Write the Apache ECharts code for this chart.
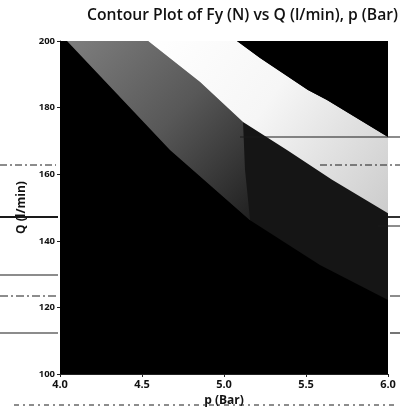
<!DOCTYPE html>
<html>
<head>
<meta charset="utf-8">
<script src="https://cdn.jsdelivr.net/npm/echarts@6/dist/echarts.min.js"></script>
<style>
  html, body { margin: 0; padding: 0; background: #fff; }
  #chart { width: 400px; height: 416px; }
</style>
</head>
<body>
<div id="chart"></div>
<script>
// Axis ranges and ticks
const pTicks = [4.0, 4.5, 5.0, 5.5, 6.0];
const qTicks = [100, 120, 140, 160, 180, 200];

// Fy contour bands, each an outline of [p (Bar), Q (l/min)] vertices
const bandLowest = [[4, 100], [6, 100], [6, 200], [4, 200]];
const bandLow = [[4.043, 200], [4.671, 167.3], [5.159, 146.2], [5.585, 132.7], [6, 122.2], [6, 200]];
const bandMid = [[4.043, 200], [4.671, 167.3], [5.159, 146.2], [5.128, 161.3], [5.116, 175.7], [4.854, 187.7], [4.537, 200]];
const bandHigh = [[4.537, 200], [4.854, 187.7], [5.116, 175.7], [5.384, 167.3], [5.659, 158.3], [6, 148.3],
                  [6, 171.2], [5.628, 182.3], [5.512, 185.3], [5.220, 194.9], [5.079, 200]];
const bandTop = [[5.079, 200], [5.220, 194.9], [5.512, 185.3], [5.628, 182.3], [6, 171.2], [6, 200]];

const bands = [bandLowest, bandLow, bandMid, bandHigh, bandTop];

const G = echarts.graphic;
const bandFills = [
  '#000000',
  '#151515',
  new G.LinearGradient(0, 0, 1, 1, [
    { offset: 0, color: '#7e7e7e' },
    { offset: 0.5, color: '#585858' },
    { offset: 1, color: '#202020' }
  ]),
  new G.LinearGradient(0, 0, 1, 1, [
    { offset: 0, color: '#ffffff' },
    { offset: 0.45, color: '#f6f6f6' },
    { offset: 1, color: '#cccccc' }
  ]),
  '#000000'
];

// faint ruled lines running across the printed page: [y, x1, x2, width, dash]
const ruleLines = [
  [137, 240, 400, 1.2, null],
  [165, 0, 56, 1, [7, 3, 2, 3]],
  [165, 320, 400, 1, [7, 3, 2, 3]],
  [217, 0, 58, 1.8, null],
  [217, 388, 400, 1.8, null],
  [226, 378, 400, 1, null],
  [275, 0, 58, 1.2, null],
  [296, 0, 56, 1, [8, 3, 2, 3]],
  [296, 390, 400, 1, null],
  [333, 0, 58, 1.2, null],
  [333, 390, 400, 1.2, null],
  [405, 14, 396, 1, [5, 4, 2, 4]]
];

const chart = echarts.init(document.getElementById('chart'), null, { renderer: 'canvas' });

const FONT = '"Open Sans", "DejaVu Sans", sans-serif';

chart.setOption({
  animation: false,
  backgroundColor: '#ffffff',
  title: {
    text: 'Contour Plot of Fy (N) vs Q (l/min), p (Bar)',
    right: 2,
    top: 8,
    padding: 0,
    textStyle: { fontFamily: FONT, fontSize: 15.7, fontWeight: 600, color: '#111' }
  },
  grid: { left: 60, right: 12, top: 41, bottom: 42 },
  xAxis: {
    type: 'value',
    min: pTicks[0],
    max: pTicks[pTicks.length - 1],
    interval: 0.5,
    name: 'p (Bar)',
    nameLocation: 'middle',
    nameGap: 21,
    nameTextStyle: { fontFamily: FONT, fontSize: 12, fontWeight: 'bold', color: '#111' },
    axisLine: { show: true, lineStyle: { color: '#222', width: 1 } },
    axisTick: { show: true, length: 3, lineStyle: { color: '#222' } },
    axisLabel: {
      formatter: v => v.toFixed(1),
      fontFamily: FONT, fontSize: 11, fontWeight: 'bold', color: '#111', margin: 5
    },
    splitLine: { show: false }
  },
  yAxis: {
    type: 'value',
    min: qTicks[0],
    max: qTicks[qTicks.length - 1],
    interval: 20,
    name: 'Q (l/min)',
    nameLocation: 'middle',
    nameGap: 32,
    nameTextStyle: { fontFamily: FONT, fontSize: 12, fontWeight: 'bold', color: '#111' },
    axisLine: { show: true, lineStyle: { color: '#222', width: 1 } },
    axisTick: { show: true, length: 3, lineStyle: { color: '#222' } },
    axisLabel: { fontFamily: FONT, fontSize: 9.5, fontWeight: 'bold', color: '#111', margin: 5 },
    splitLine: { show: false }
  },
  series: [{
    type: 'custom',
    coordinateSystem: 'cartesian2d',
    clip: true,
    data: bands.map((_, i) => [i]),
    encode: { x: -1, y: -1 },
    renderItem: (params, api) => {
      const pts = bands[params.dataIndex].map(v => api.coord(v));
      return {
        type: 'polygon',
        shape: { points: pts },
        style: { fill: bandFills[params.dataIndex], stroke: null }
      };
    }
  }],
  graphic: ruleLines.map(([y, x1, x2, w, dash]) => ({
    type: 'line',
    z: 100,
    silent: true,
    shape: { x1: x1, y1: y, x2: x2, y2: y },
    style: { stroke: '#1a1a1a', lineWidth: w, lineDash: dash }
  }))
});
</script>
</body>
</html>
